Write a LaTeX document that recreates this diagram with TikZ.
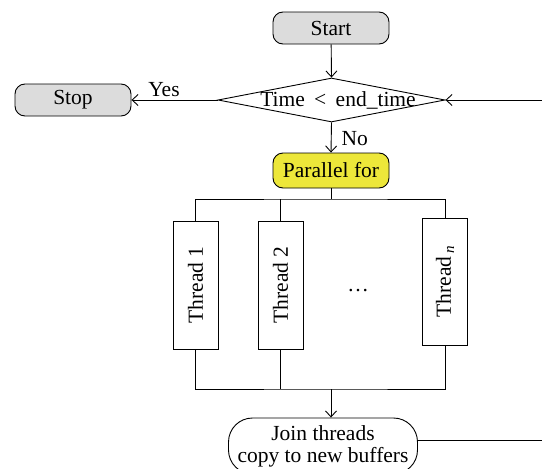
\documentclass[tikz,border=0pt]{standalone}
\usepackage{fontspec}
\setmainfont{Liberation Serif}
\usepackage{graphicx}
\usetikzlibrary{arrows.meta,shapes.geometric}
\definecolor{termgray}{RGB}{220,220,220}
\definecolor{paryellow}{RGB}{237,231,58}
\begin{document}
\begin{tikzpicture}[x=1pt,y=-1pt,
  every node/.style={font=\fontsize{21.5}{22}\selectfont},
  line/.style={line width=0.9pt},
  arr/.style={line, -{Straight Barb[length=6pt,width=11pt]}},
  term/.style={draw, line width=0.9pt, rounded corners=10pt, minimum width=116pt, minimum height=32pt, inner sep=0pt},
  thr/.style={draw, line width=0.9pt, minimum width=45pt, minimum height=128pt, inner sep=0pt},
]
\useasboundingbox (0,0) rectangle (542,469);
\node[term, fill=termgray] (start) at (331,28) {Start};
\node[diamond, draw, line width=0.9pt, minimum width=227pt, minimum height=44pt, inner sep=0pt] (dec) at (331.5,100) {};
\node (dectext) at (338,100) {Time\hspace{4pt} < \hspace{4pt}end\_time};
\node[term, fill=termgray] (stop) at (73,100) {Stop};
\node[term, fill=paryellow, minimum height=35pt] (par) at (331,170.5) {Parallel for};
\node[thr] (t1) at (195.5,285) {\rotatebox{90}{Thread 1}};
\node[thr] (t2) at (280.5,285) {\rotatebox{90}{Thread 2}};
\node[thr, minimum height=127pt] (tn) at (445,281.5) {\rotatebox{90}{Thread\textsubscript{\,\textit{n}}}};
\node[anchor=base] (dots) at (358,291) {\dots};
\node[draw, line width=0.9pt, rounded corners=24pt, minimum width=189pt, minimum height=56pt, align=center, inner sep=0pt] (join) at (323,446) {Join threads\\copy to new buffers};
\node[anchor=base] (yes) at (164,96) {Yes};
\node[anchor=base west] (no) at (338,145) {No};
\coordinate (rin) at (542,100);
\coordinate (jr) at (542,440);
\coordinate (top) at (331,199);
\coordinate (bot) at (331,389);
\draw[arr] (start) -- (dec.north);
\draw[arr] (dec.west) -- (stop.east);
\draw[arr] (dec.south) -- (par.north);
\draw[arr] (rin) -- (dec.east);
\draw[line] (par.south) -- (top);
\draw[line] (t1.north) |- (top) -| (tn.north);
\draw[line] (t2.north) -- (t2.north |- top);
\draw[line] (t1.south) |- (bot) -| (tn.south);
\draw[line] (t2.south) -- (t2.south |- bot);
\draw[arr] (bot) -- (bot |- join.north);
\draw[line] (join.east |- jr) -- (jr);
\end{tikzpicture}
\end{document}
